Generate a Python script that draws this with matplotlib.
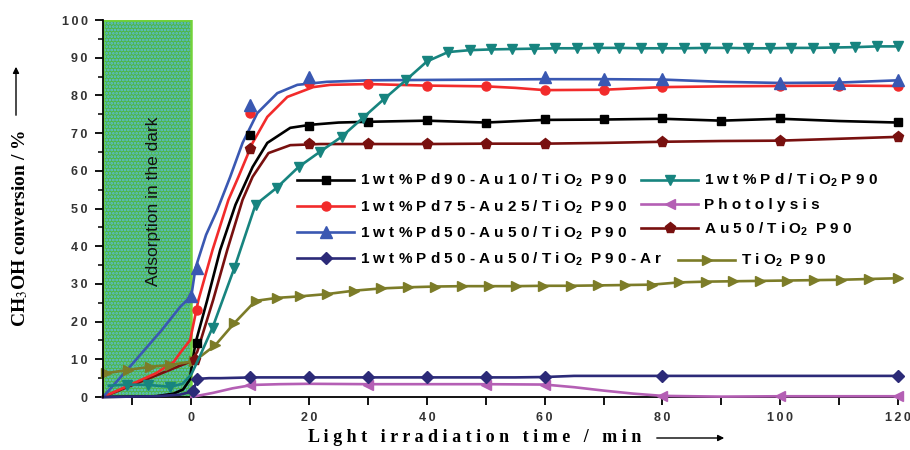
import matplotlib
matplotlib.use('Agg')
import matplotlib.pyplot as plt
from matplotlib.lines import Line2D

# ---- data (time in min, conversion in %) ----
black_t = [-15, -6, -3, -1.4, -0.3, 0.7, 2.7, 4.9, 7.5, 10.4, 12.9, 16.8, 20.2, 25, 30, 40, 50, 60, 70, 80, 90, 100, 110, 120]
black_y = [0, 0.2, 0.9, 2, 4.5, 14.3, 25.7, 39, 51, 61, 67.4, 71.4, 72.2, 72.8, 73, 73.3, 72.8, 73.5, 73.6, 73.8, 73.3, 73.8, 73.2, 72.8]
black_mt = [1, 10, 20, 30, 40, 50, 60, 70, 80, 90, 100, 120]
black_my = [14.3, 69.5, 71.9, 73, 73.5, 72.7, 73.7, 73.7, 74, 73.2, 74, 73]

red_t = [-15, -10, -6, -3, -1.9, -0.2, 1.2, 3.6, 6.3, 8, 10.4, 12.9, 16.3, 20.7, 23.6, 30, 40, 50, 55, 60, 70, 80, 90, 100, 110, 120]
red_y = [0, 3.5, 6.3, 9.3, 11.7, 15.1, 25.7, 39, 52.3, 58.4, 67.4, 74.3, 79.6, 82.2, 82.8, 83, 82.6, 82.4, 82, 81.4, 81.5, 82.2, 82.4, 82.5, 82.6, 82.5]
red_mt = [1, 10, 20, 30, 40, 50, 60, 70, 80, 100, 110, 120]
red_my = [23, 75.3, 83.3, 83, 82.5, 82.5, 81.4, 81.4, 82.3, 82.5, 82.6, 82.5]

blue_t = [-15, -10, -5, -1.9, 0, 0.7, 2.5, 4.4, 6.6, 8.7, 11.2, 14.6, 18, 23, 30, 40, 50, 60, 70, 80, 90, 100, 110, 120]
blue_y = [0, 8.8, 17.8, 23.9, 26.8, 34.2, 43, 49.6, 58.4, 67.4, 75.3, 80.6, 82.8, 83.6, 84, 84.1, 84.2, 84.3, 84.3, 84.2, 83.6, 83.3, 83.4, 84]
blue_mt = [0, 1, 10, 20, 60, 70, 80, 100, 110, 120]
blue_my = [26.8, 34.2, 77.5, 84.9, 84.9, 84.3, 84.4, 83.4, 83.4, 84.1]

navy_t = [-15, -6, -2, 0.3, 1, 3, 5, 10.4, 20, 30, 40, 50, 55, 60, 65, 80, 100, 120]
navy_y = [0, 0.2, 0.6, 1.5, 4.8, 5.0, 5.0, 5.2, 5.2, 5.2, 5.2, 5.2, 5.2, 5.3, 5.6, 5.6, 5.6, 5.6]
navy_mt = [0.3, 1, 10, 20, 30, 40, 50, 60, 80, 120]
navy_my = [1.5, 4.8, 5.2, 5.2, 5.2, 5.2, 5.3, 5.4, 5.6, 5.6]

teal_t = [-14, -10.9, -7.3, -3.6, -1.5, 0, 1.5, 3.6, 7.3, 10.9, 14.5, 18.2, 21.8, 25.5, 29.1, 32.7, 36.4, 40, 43.6, 47.3,
          50.9, 54.5, 58.2, 61.8, 65.5, 69.1, 72.7, 76.4, 80, 83.6, 87.3, 90.9, 94.5, 98.2, 101.8, 105.5, 109.1, 112.7, 116.4, 120]
teal_y = [3, 3.3, 3.2, 2.7, 3.5, 6, 11, 18.4, 34.2, 51, 55.5, 61, 65, 69, 74, 79, 84, 89, 91.5, 92,
          92.2, 92.3, 92.4, 92.5, 92.5, 92.6, 92.6, 92.5, 92.5, 92.5, 92.6, 92.6, 92.5, 92.5, 92.6, 92.6, 92.7, 92.8, 93, 93]
teal_skip = [0, 4, 5, 6]  # points on the curve that carry no marker

mag_t = [0, 3.7, 7, 10.4, 15, 20, 30, 40, 50, 60, 65, 70, 75, 80, 90, 100, 110, 120]
mag_y = [0, 1.1, 2.3, 3.2, 3.4, 3.5, 3.4, 3.4, 3.4, 3.3, 2.6, 1.7, 0.9, 0.3, 0.1, 0.2, 0.2, 0.2]
mag_mt = [10, 30, 50, 60, 80, 100, 120]
mag_my = [3.2, 3.3, 3.3, 3.3, 0.3, 0.3, 0.2]

maroon_t = [-15, 0, 1, 3.7, 6.1, 8.7, 10.4, 13.1, 16.8, 21.9, 30, 40, 50, 60, 70, 80, 90, 100, 110, 120]
maroon_y = [0, 9.5, 12, 25.7, 39, 52.3, 58.4, 64.7, 66.8, 67.1, 67.1, 67.1, 67.2, 67.2, 67.4, 67.7, 67.9, 68, 68.5, 69]
maroon_mt = [0.7, 10, 20, 30, 40, 50, 60, 80, 100, 120]
maroon_my = [9.8, 65.8, 67.1, 67.1, 67.1, 67.2, 67.2, 67.7, 68, 69]

olive_t = [-14.5, -10.7, -7, -3.6, 0.5, 4.1, 7.3, 10.9, 14.6, 18.5, 23, 27.6, 32.2, 36.8, 41.4, 46, 50.6, 55.2,
           59.8, 64.4, 69, 73.6, 78.2, 82.8, 87.4, 92, 96.6, 101.2, 105.8, 110.4, 115, 120]
olive_y = [6.3, 7.2, 8, 8.5, 9.5, 13.8, 19.6, 25.5, 26.3, 26.7, 27.3, 28.2, 28.8, 29.1, 29.3, 29.4, 29.4, 29.4,
           29.5, 29.5, 29.6, 29.7, 29.8, 30.4, 30.6, 30.7, 30.8, 30.9, 31, 31.1, 31.3, 31.5]

dark_end = 0
y_ticks = [0, 10, 20, 30, 40, 50, 60, 70, 80, 90, 100]
x_ticks = [-10, 0, 10, 20, 30, 40, 50, 60, 70, 80, 90, 100, 110, 120]

labels = {
    'black': '1 w t % P d 9 0 - A u 1 0 / T i O$_2$  P 9 0',
    'teal': '1 w t % P d / T i O$_2$ P 9 0',
    'red': '1 w t % P d 7 5 - A u 2 5 / T i O$_2$  P 9 0',
    'mag': 'P h o t o l y s i s',
    'blue': '1 w t % P d 5 0 - A u 5 0 / T i O$_2$  P 9 0',
    'maroon': 'A u 5 0 / T i O$_2$  P 9 0',
    'navy': '1 w t % P d 5 0 - A u 5 0 / T i O$_2$  P 9 0 - A r',
    'olive': 'T i O$_2$  P 9 0',
}
colors = {'black': '#000000', 'red': '#f22b2b', 'blue': '#3a58b2', 'navy': '#2c2a78',
          'teal': '#17847f', 'mag': '#b45fb4', 'maroon': '#78100f', 'olive': '#7c7c28'}
markers = {'black': ('s', 6), 'red': ('o', 6.5), 'blue': ('^', 8.5), 'navy': ('D', 6.5),
           'teal': ('v', 7.5), 'mag': ('<', 7), 'maroon': ('p', 8), 'olive': ('>', 7)}

plt.rcParams['font.family'] = ['Liberation Sans', 'DejaVu Sans']
plt.rcParams['mathtext.fontset'] = 'custom'
plt.rcParams['mathtext.rm'] = 'Liberation Sans:bold'
plt.rcParams['mathtext.it'] = 'Liberation Sans:bold'
plt.rcParams['mathtext.bf'] = 'Liberation Sans:bold'
plt.rcParams['hatch.linewidth'] = 1.3

fig = plt.figure(figsize=(9.1, 4.5), dpi=100)
ax = fig.add_axes([103 / 910, 53 / 450, 795 / 910, 377 / 450])

# shaded dark-adsorption period: green with a fine cyan dot screen
ax.axvspan(-15, dark_end, facecolor='#4fb646', edgecolor='#5bbde0', hatch='.....', linewidth=0.3, zorder=0)
ax.axvspan(-15, dark_end, facecolor='none', edgecolor='#72d23a', linewidth=1.8, zorder=0.5)
ax.text(-6.4, 52, 'Adsorption in the dark', rotation=90, ha='center', va='center',
        fontsize=12.5, color='#111111', family=['Liberation Sans', 'DejaVu Sans'])

lw = 1.9


def curve(t, y, mt, my, key, **kw):
    c = colors[key]
    m, ms = markers[key]
    ax.plot(t, y, color=c, lw=lw, clip_on=False, zorder=3, **kw)
    if mt is not None:
        ax.plot(mt, my, ls='none', marker=m, ms=ms, color=c, clip_on=False, zorder=4)


curve(black_t, black_y, black_mt, black_my, 'black')
curve(maroon_t, maroon_y, maroon_mt, maroon_my, 'maroon')
curve(red_t, red_y, red_mt, red_my, 'red')
curve(blue_t, blue_y, blue_mt, blue_my, 'blue')
curve(mag_t, mag_y, mag_mt, mag_my, 'mag')
curve(navy_t, navy_y, navy_mt, navy_my, 'navy')
ax.plot(olive_t, olive_y, color=colors['olive'], lw=lw, marker='>', ms=markers['olive'][1],
        clip_on=False, zorder=3)
teal_marks = [i for i in range(len(teal_t)) if i not in teal_skip]
ax.plot(teal_t, teal_y, color=colors['teal'], lw=lw, marker='v', ms=markers['teal'][1],
        markevery=teal_marks, clip_on=False, zorder=5)

ax.set_xlim(-15, 120)
ax.set_ylim(0, 100)
for s in ['top', 'right']:
    ax.spines[s].set_visible(False)
ax.spines['left'].set_linewidth(1.3)
ax.spines['bottom'].set_linewidth(1.3)
ax.spines['left'].set_zorder(6)

sp = '\u2009'
ax.set_yticks(y_ticks)
ax.set_yticklabels([sp.join(str(v)) for v in y_ticks])
ax.set_yticks([v + 5 for v in y_ticks[:-1]], minor=True)
ax.set_xticks(x_ticks)
ax.set_xticklabels([sp.join(str(v)) if v >= 0 and v % 20 == 0 else '' for v in x_ticks])
ax.tick_params(axis='both', which='major', direction='out', length=6, width=1.3,
               labelsize=9, labelcolor='#333333', pad=5)
ax.tick_params(axis='y', which='minor', direction='out', length=3.5, width=1.1)
for lab in ax.get_xticklabels() + ax.get_yticklabels():
    lab.set_fontweight('bold')

fig.text(20 / 910, 1 - 228 / 450, 'CH$_3$OH conversion / %', rotation=90, ha='center', va='center',
         fontsize=14, fontweight='bold', family='Liberation Serif', math_fontfamily='stix')
fig.text(475 / 910, 1 - 438 / 450, 'L i g h t   i r r a d i a t i o n   t i m e   /   m i n',
         ha='center', va='center', fontsize=13, fontweight='bold', family='Liberation Serif')
ax.annotate('', xy=(16 / 910, 1 - 64 / 450), xytext=(16 / 910, 1 - 118 / 450), xycoords='figure fraction',
            arrowprops=dict(arrowstyle='-|>', color='black', lw=1, mutation_scale=9))
ax.annotate('', xy=(727 / 910, 1 - 438 / 450), xytext=(654 / 910, 1 - 438 / 450), xycoords='figure fraction',
            arrowprops=dict(arrowstyle='-|>', color='black', lw=1, mutation_scale=9))


def handle(key):
    m, ms = markers[key]
    return Line2D([], [], color=colors[key], lw=lw, marker=m, ms=ms)


leg_kw = dict(frameon=False, loc='upper left', borderpad=0, borderaxespad=0, handlelength=3.75,
              handletextpad=0.35, labelspacing=0.57, numpoints=1, prop={'size': 11, 'weight': 'bold'})
col1 = ['black', 'red', 'blue', 'navy']
leg1 = fig.legend([handle(k) for k in col1], [labels[k] for k in col1],
                  bbox_to_anchor=(297 / 910, 1 - 172 / 450), **leg_kw)
col2 = ['teal', 'mag', 'maroon']
leg2 = fig.legend([handle(k) for k in col2], [labels[k] for k in col2],
                  bbox_to_anchor=(641 / 910, 1 - 172 / 450), **leg_kw)
leg3 = fig.legend([handle('olive')], [labels['olive']],
                  bbox_to_anchor=(678 / 910, 1 - 252 / 450), **leg_kw)

fig.savefig('out.png', dpi=100)
